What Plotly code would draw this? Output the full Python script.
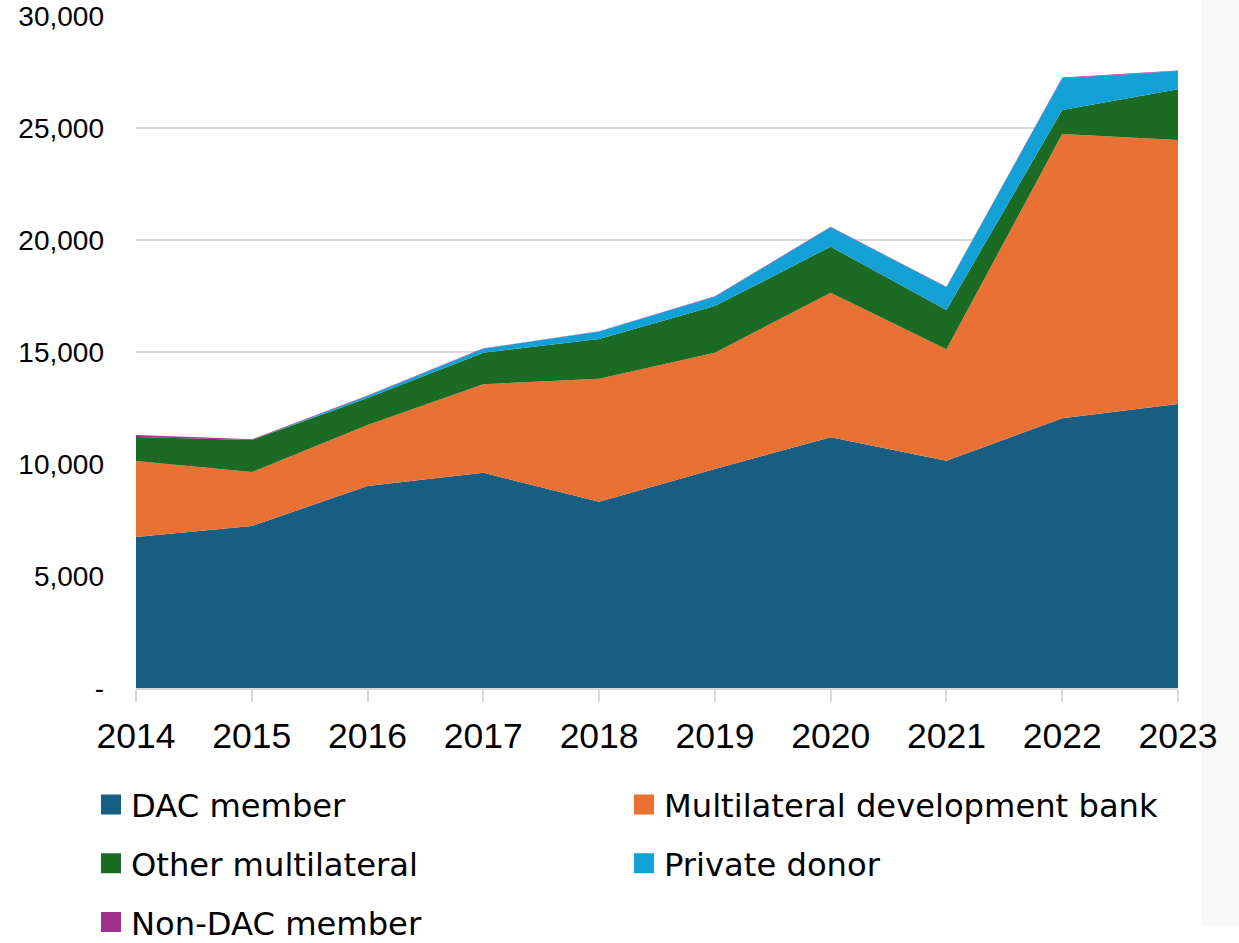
import plotly.graph_objects as go

years = [2014, 2015, 2016, 2017, 2018, 2019, 2020, 2021, 2022, 2023]
dac_member = [6740, 7230, 9020, 9610, 8320, 9780, 11190, 10150, 12040, 12680]
mdb = [3390, 2410, 2720, 3950, 5490, 5190, 6460, 4970, 12690, 11780]
other_multilateral = [1070, 1430, 1210, 1410, 1770, 2080, 2050, 1760, 1070, 2270]
private_donor = [0, 0, 90, 180, 330, 420, 870, 1010, 1420, 810]
non_dac_member = [90, 30, 20, 15, 15, 15, 20, 20, 30, 30]

series_names = ["DAC member", "Multilateral development bank", "Other multilateral",
                "Private donor", "Non-DAC member"]
series_values = [dac_member, mdb, other_multilateral, private_donor, non_dac_member]
series_colors = ["#175e82", "#e87133", "#1b6b25", "#12a0d7", "#a0308e"]
legend_column = ["legend", "legend2", "legend", "legend2", "legend"]

ytick_vals = [0, 5000, 10000, 15000, 20000, 25000, 30000]
ytick_text = ["-", "5,000", "10,000", "15,000", "20,000", "25,000", "30,000"]

fig = go.Figure()
for name, vals, col in zip(series_names, series_values, series_colors):
    fig.add_trace(go.Scatter(
        x=years, y=vals, name=name, mode="lines",
        stackgroup="one", line=dict(width=0, color=col),
        fillcolor=col, hoverinfo="x+y+name", showlegend=False))

# legend entries with square swatches
for i, (name, col, lg) in enumerate(zip(series_names, series_colors, legend_column)):
    fig.add_trace(go.Scatter(
        x=[None], y=[None], name=name, mode="markers",
        marker=dict(symbol="square", size=16, color=col, line=dict(width=4, color=col)),
        legend=lg, legendgroup="g%d" % i, showlegend=True))

plot_w = 1042
plot_h = 672
legend_font = dict(size=32.2, family="DejaVu Sans", color="#000000")

fig.update_layout(
    width=1239, height=943,
    margin=dict(l=136, r=61, t=16, b=255, autoexpand=False),
    paper_bgcolor="white", plot_bgcolor="white",
    font=dict(family="Liberation Sans, Arial, sans-serif", color="#000000"),
    xaxis=dict(range=[2014, 2023], tickvals=years, ticktext=[str(y) for y in years],
               showgrid=False, showline=True, linecolor="#d9d9d9", linewidth=1.5,
               ticks="outside", ticklen=12, tickcolor="#d9d9d9", tickwidth=1.5,
               tickfont=dict(size=35.5), ticklabelstandoff=4, zeroline=False,
               ticklabeloverflow="allow", fixedrange=True),
    yaxis=dict(range=[0, 30000], tickvals=ytick_vals, ticktext=ytick_text,
               showgrid=True, gridcolor="#d9d9d9", gridwidth=1.5,
               showline=False, zeroline=False, ticks="", tickfont=dict(size=28),
               ticklabelstandoff=31, ticklabeloverflow="allow", fixedrange=True),
    legend=dict(orientation="v", x=(91 - 136) / plot_w, xanchor="left",
                y=-0.1324, yanchor="top", font=legend_font,
                traceorder="grouped", tracegroupgap=14,
                bgcolor="rgba(0,0,0,0)"),
    legend2=dict(orientation="v", x=(624 - 136) / plot_w, xanchor="left",
                 y=-0.1324, yanchor="top", font=legend_font,
                 traceorder="grouped", tracegroupgap=14,
                 bgcolor="rgba(0,0,0,0)"),
    showlegend=True,
    shapes=[dict(type="rect", xref="paper", yref="paper",
                 x0=(1201 - 136) / plot_w, x1=(1239 - 136) / plot_w,
                 y0=(688 - 925) / plot_h, y1=688 / plot_h,
                 fillcolor="#f8f8f8", line=dict(width=0), layer="below")],
)

fig.write_html("out.html", config={"displayModeBar": False},
               post_script="document.body.style.margin='0px';document.body.style.overflow='hidden';")
